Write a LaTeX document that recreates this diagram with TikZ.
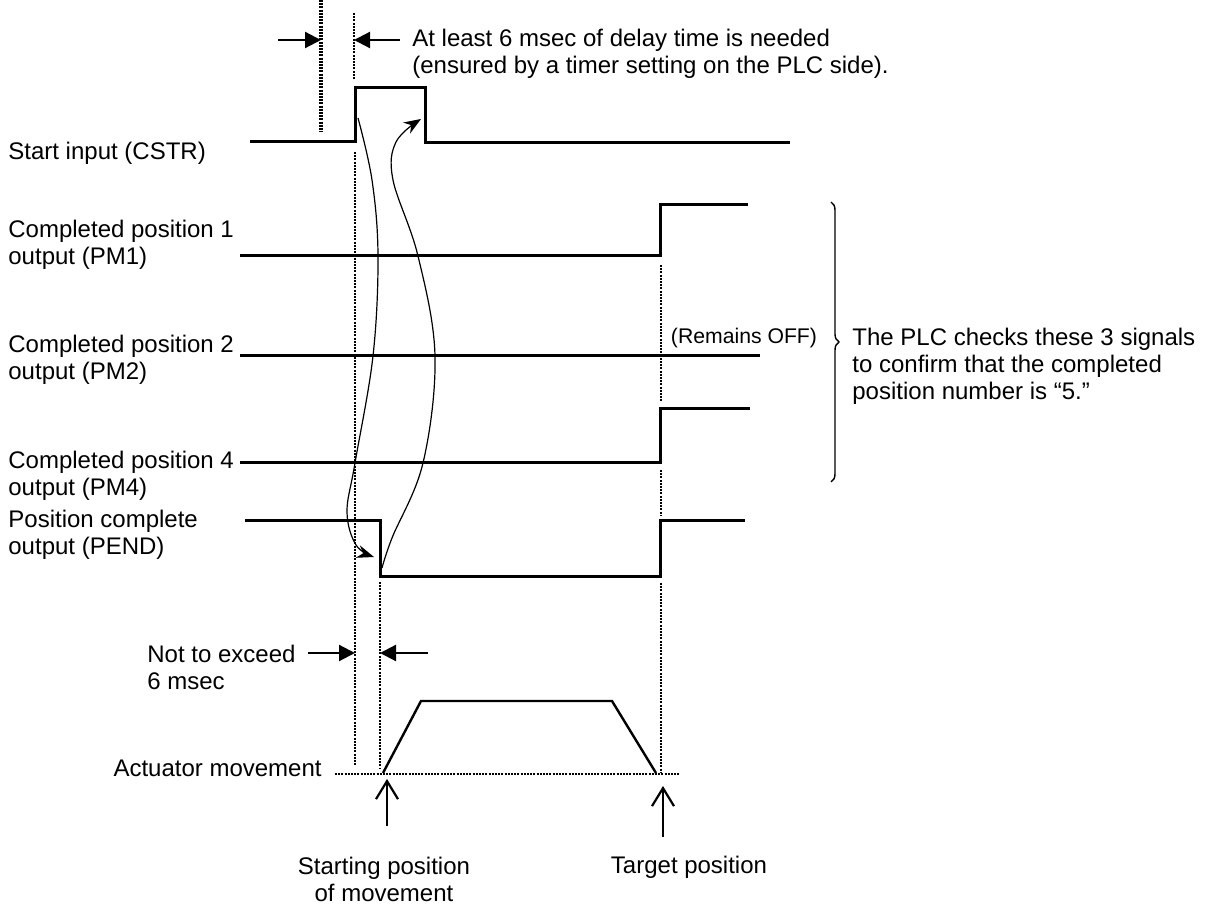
\documentclass[tikz,border=0pt]{standalone}
\usepackage{fontspec}
\setmainfont{Liberation Sans}
\usetikzlibrary{arrows.meta,decorations.pathreplacing}
\begin{document}
\begin{tikzpicture}[x=0.5pt,y=-0.5pt,
  sig/.style={line width=1.5pt, line join=miter},
  guide/.style={line width=1.4pt, dash pattern=on 1pt off 0.6pt},
  dimarrow/.style={line width=1.1pt, -{Triangle[length=8pt,width=8pt]}},
  curvearrow/.style={line width=0.6pt, -{Stealth[length=8.5pt,width=6.5pt]}},
  uparrow/.style={line width=1.1pt, -{Straight Barb[length=9pt,width=11pt,line width=1.1pt]}},
  lbl/.style={font=\fontsize{12}{13.5}\selectfont, inner sep=0pt, align=left, anchor=west},
  clbl/.style={font=\fontsize{12}{13.5}\selectfont, inner sep=0pt, align=center},
]
\useasboundingbox (0,0) rectangle (1207,909);

% labels
\node[lbl] (lcstr) at (8,153) {Start input (CSTR)};
\node[lbl] (lpm1) at (8,244.5) {Completed position 1\\output (PM1)};
\node[lbl] (lpm2) at (8,360) {Completed position 2\\output (PM2)};
\node[lbl] (lpm4) at (8,476) {Completed position 4\\output (PM4)};
\node[lbl] (lpend) at (8,534.5) {Position complete\\output (PEND)};
\node[lbl] (ltop) at (412,53.5) {At least 6 msec of delay time is needed\\(ensured by a timer setting on the PLC side).};
\node[lbl] (lnot) at (147,667.5) {Not to exceed\\6 msec};
\node[lbl, anchor=east] (lact) at (322,768) {Actuator movement};
\node[clbl] (lstart) at (384,879.5) {Starting position\\of movement};
\node[clbl] (ltarget) at (689,867) {Target position};
\node[clbl, font=\fontsize{10.6}{12}\selectfont] (loff) at (744,338) {(Remains OFF)};
\node[lbl] (lplc) at (852,366) {The PLC checks these 3 signals\\to confirm that the completed\\position number is “5.”};

% signals
\draw[sig] (250,142) -- (355,142) -- (355,88) -- (425,88) -- (425,143) -- (790,143);
\draw[sig] (240,256) -- (660,256) -- (660,205) -- (748,205);
\draw[sig] (240,356) -- (760,356);
\draw[sig] (240,463) -- (660,463) -- (660,409) -- (750,409);
\draw[sig] (245,521) -- (380,521) -- (380,577) -- (660,577) -- (660,521) -- (745,521);

% actuator movement
\draw[line width=1.2pt, line join=miter] (383,773) -- (421,701) -- (612,701) -- (656,773);
\draw[guide, line width=1.1pt] (335,774) -- (680,774);

% guide lines
\draw[guide, line width=1.7pt] (321,0) -- (321,132);
\draw[guide] (354,13) -- (354,80);
\draw[guide] (355,152) -- (355,765);
\draw[guide] (380,582) -- (380,768);
\draw[guide] (661,265) -- (661,402);
\draw[guide] (661,470) -- (661,515);
\draw[guide] (661,583) -- (661,772);

% dimension arrows
\coordinate (a1s) at (278,40); \coordinate (a1e) at (321,40);
\coordinate (a2s) at (400,40); \coordinate (a2e) at (354,40);
\coordinate (b1s) at (308,653); \coordinate (b1e) at (355,653);
\coordinate (b2s) at (428,653); \coordinate (b2e) at (380,653);
\draw[dimarrow] (a1s) -- (a1e);
\draw[dimarrow] (a2s) -- (a2e);
\draw[dimarrow] (b1s) -- (b1e);
\draw[dimarrow] (b2s) -- (b2e);

% up arrows
\coordinate (u1s) at (387,826); \coordinate (u1e) at (387,779);
\coordinate (u2s) at (663,837); \coordinate (u2e) at (663,786);
\draw[uparrow] (u1s) -- (u1e);
\draw[uparrow] (u2s) -- (u2e);

% curved arrows
\draw[curvearrow] plot[smooth, tension=0.6] coordinates {(358,118) (372,180) (378,256) (373,356) (355,463) (347,512) (356,545) (374,557)};
\draw[curvearrow] plot[smooth, tension=0.6] coordinates {(382,568) (392,538) (423,463) (435,356) (418,256) (393,180) (396,142) (421,119)};

% brace
\draw[line width=0.7pt, decorate, decoration={brace, amplitude=4pt}] (831,202) -- (831,482);
\end{tikzpicture}
\end{document}
